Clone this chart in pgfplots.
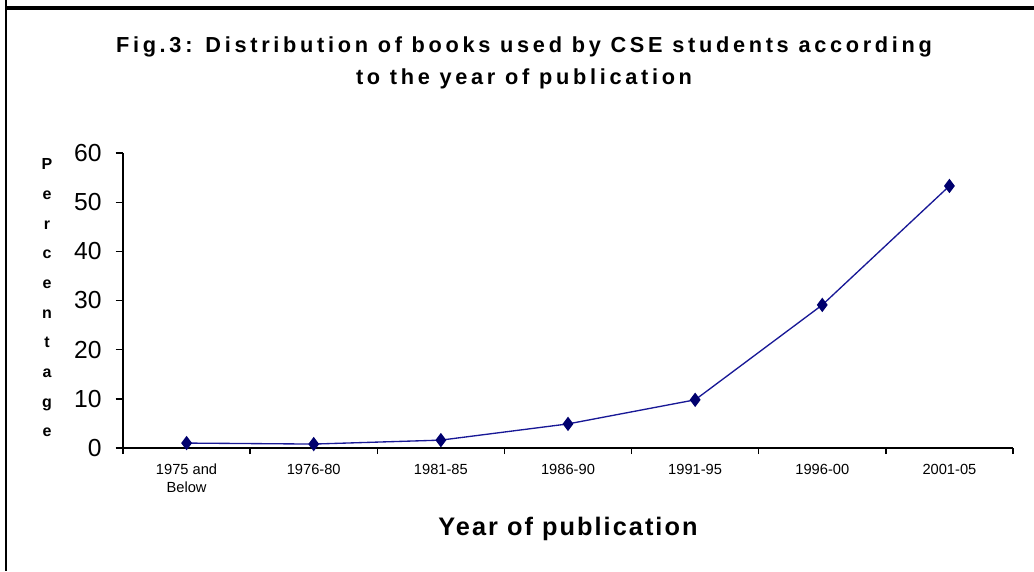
\documentclass[border=0pt]{standalone}
\usepackage{pgfplots}
\pgfplotsset{compat=1.18}
\usepackage{fontspec}
\setmainfont{Liberation Sans}
\definecolor{linenavy}{RGB}{24,24,150}
\definecolor{marknavy}{RGB}{0,0,110}
\begin{document}
\begin{tikzpicture}[x=0.75pt,y=0.75pt]
\path[use as bounding box] (0,0) rectangle (1034,571);
\coordinate (A) at (123,123);
\draw[line width=2.2pt] (6,571) -- (6,0);
\draw[line width=2.4pt] (5,563) -- (1034,563);
\node[font=\bfseries\fontsize{16.3}{24}\selectfont\addfontfeature{LetterSpace=17}, align=center] at (524,508)
  {Fig.3: Distribution of books used by CSE students according\\to the year of publication};
\node[font=\bfseries\fontsize{12}{22.25}\selectfont, align=center] at (47,273)
  {P\\e\\r\\c\\e\\n\\t\\a\\g\\e};
\begin{axis}[
  at={(A)}, anchor=south west,
  scale only axis, width=667.5pt, height=221.25pt,
  xmin=-0.5, xmax=6.5, ymin=0, ymax=60,
  axis x line*=bottom, axis y line*=left,
  axis line style={line width=1.1pt, black},
  xtick={0,1,2,3,4,5,6},
  xticklabels={{1975 and\\Below},1976-80,1981-85,1986-90,1991-95,1996-00,2001-05},
  major x tick style={draw=none},
  minor xtick={-0.5,0.5,1.5,2.5,3.5,4.5,5.5,6.5},
  minor x tick style={line width=1pt, black},
  minor tick length=4.5pt,
  ytick={0,10,20,30,40,50,60},
  major y tick style={line width=1pt, black},
  major tick length=5.5pt,
  tick align=outside,
  xticklabel style={font=\fontsize{11}{13}\selectfont, align=center, yshift=-3pt},
  yticklabel style={font=\fontsize{18.5}{20}\selectfont, xshift=-7pt},
  /pgf/number format/assume math mode=true,
  xlabel={Year of publication},
  xlabel style={font=\bfseries\fontsize{19}{22}\selectfont\addfontfeature{LetterSpace=8}, yshift=-12pt},
  clip=false,
]
\addplot[color=linenavy, line width=1pt, mark=diamond*, mark size=4.6pt,
  mark options={fill=marknavy, draw=marknavy}]
  coordinates {(0,1.0) (1,0.8) (2,1.6) (3,4.9) (4,9.8) (5,29.1) (6,53.3)};
\end{axis}
\end{tikzpicture}
\end{document}
